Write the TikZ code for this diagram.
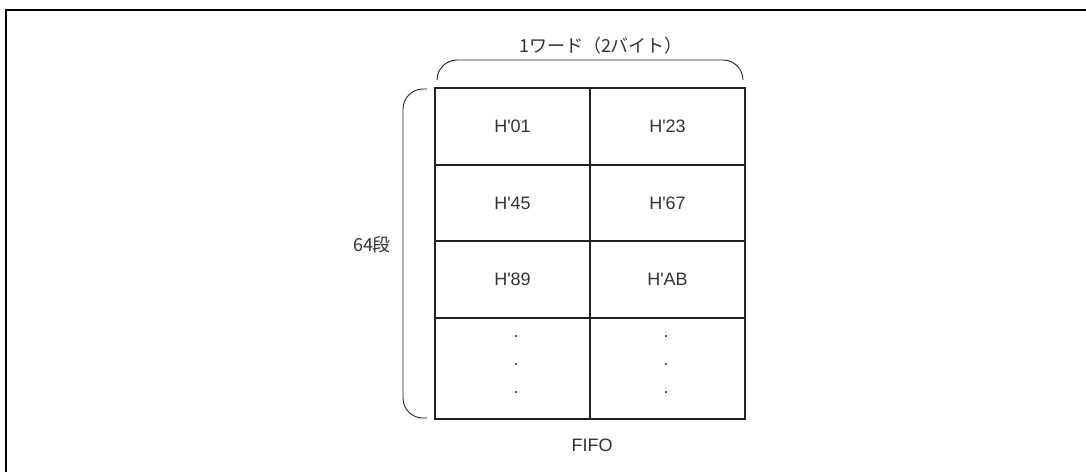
\documentclass[tikz,border=0pt]{standalone}
\usepackage{fontspec}
\defaultfontfeatures{}
\setmainfont{Liberation Sans}[Ligatures=TeXOff]
\newfontfamily\jpfont{Noto Sans CJK JP}
\definecolor{ink}{HTML}{222222}
\definecolor{txt}{HTML}{333333}
\begin{document}
\begin{tikzpicture}[x=1pt,y=-1pt,
  cell/.style={draw=ink,line width=2pt,minimum width=155pt,inner sep=0pt,
    font=\fontsize{18}{20}\selectfont,text=txt},
  lbl/.style={font=\fontsize{18}{20}\selectfont,text=txt,inner sep=0pt},
  dotlbl/.style={font=\fontsize{18}{20}\selectfont,text=txt,inner sep=0pt},
  bracel/.style={draw=ink,line width=0.9pt,rounded corners=20pt},
  framel/.style={draw=black,line width=2.2pt}]
\useasboundingbox (0,0) rectangle (1086,472);
% frame (top and left edges)
\coordinate (fa) at (6,472);
\coordinate (fb) at (6,10);
\coordinate (fc) at (1086,10);
\draw[framel] (fa) -- (fb) -- (fc);
% cells
\node[cell,minimum height=77pt] (c11) at (512.5,126.5) {H'01};
\node[cell,minimum height=77pt] (c12) at (667.5,126.5) {H'23};
\node[cell,minimum height=76pt] (c21) at (512.5,203) {H'45};
\node[cell,minimum height=76pt] (c22) at (667.5,203) {H'67};
\node[cell,minimum height=77pt] (c31) at (512.5,279.5) {H'89};
\node[cell,minimum height=77pt] (c32) at (667.5,279.5) {H'AB};
\node[cell,minimum height=101pt] (c41) at (512.5,368.5) {};
\node[cell,minimum height=101pt] (c42) at (667.5,368.5) {};
% dots
\foreach \y/\n in {337/a,365/b,393/c}{
  \node[dotlbl] (dl\n) at (516,\y) {.};
  \node[dotlbl] (dr\n) at (666,\y) {.};
}
% top brace
\coordinate (tb1) at (437,80);
\coordinate (tb2) at (437,60);
\coordinate (tb3) at (743,60);
\coordinate (tb4) at (743,80);
\draw[bracel] (tb1) -- (tb2) -- (tb3) -- (tb4);
\node[lbl,font=\jpfont\fontsize{18}{20}\selectfont] (word) at (601,46) {1ワード（2バイト）};
% left brace
\coordinate (lb1) at (427,89);
\coordinate (lb2) at (403,89);
\coordinate (lb3) at (403,418);
\coordinate (lb4) at (427,418);
\draw[bracel] (lb1) -- (lb2) -- (lb3) -- (lb4);
\node[lbl,font=\jpfont\fontsize{18}{20}\selectfont] (stage) at (372,245) {64段};
% caption
\node[lbl] (fifo) at (592,445) {FIFO};
\end{tikzpicture}
\end{document}
